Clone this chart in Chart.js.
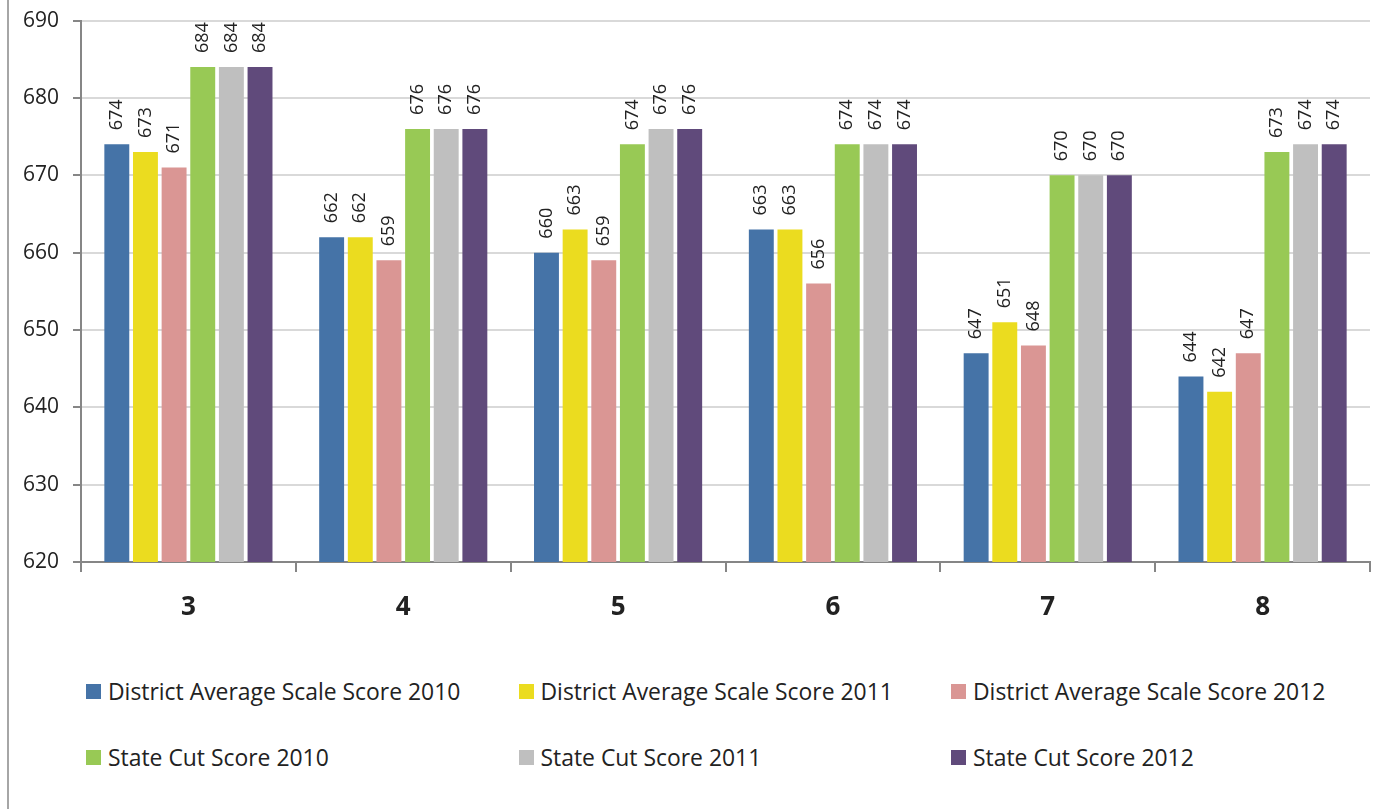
<!DOCTYPE html>
<html>
<head>
<meta charset="utf-8">
<script src="https://cdn.jsdelivr.net/npm/chart.js@4.4.0/dist/chart.umd.min.js"></script>
<style>
  html, body { margin: 0; padding: 0; background: #fff; }
  #wrap { position: relative; width: 1377px; height: 809px; overflow: hidden; }
  #frame { position: absolute; left: 7px; top: 0; width: 0; height: 809px; border-left: 2px solid #a6a6a6; }
  #chartBox { position: absolute; left: 0; top: -6px; width: 1377px; height: 646px; }
  #legend { position: absolute; left: 86px; top: 676px; width: 1290px;
    font-family: "Open Sans", sans-serif; font-size: 22.9px; color: #222; }
  .lg { position: absolute; display: flex; align-items: center; white-space: nowrap; }
  .lg i { display: inline-block; width: 15px; height: 15px; margin-right: 7px; }
</style>
</head>
<body>
<div id="wrap">
  <div id="frame"></div>
  <div id="chartBox"><canvas id="c"></canvas></div>
  <div id="legend"></div>
</div>
<script>
'use strict';

/* ---------- data ---------- */
const grades = ['3', '4', '5', '6', '7', '8'];
const seriesNames = [
  'District Average Scale Score 2010',
  'District Average Scale Score 2011',
  'District Average Scale Score 2012',
  'State Cut Score 2010',
  'State Cut Score 2011',
  'State Cut Score 2012'
];
const district2010 = [674, 662, 660, 663, 647, 644];
const district2011 = [673, 662, 663, 663, 651, 642];
const district2012 = [671, 659, 659, 656, 648, 647];
const state2010 = [684, 676, 674, 674, 670, 673];
const state2011 = [684, 676, 676, 674, 670, 674];
const state2012 = [684, 676, 676, 674, 670, 674];
const colors = ['#4573a7', '#ebdc1f', '#da9694', '#98c955', '#bfbfbf', '#604a7b'];

const seriesValues = [district2010, district2011, district2012, state2010, state2011, state2012];

/* ---------- rotated value labels ---------- */
const valueLabels = {
  id: 'valueLabels',
  afterDatasetsDraw(chart) {
    const ctx = chart.ctx;
    ctx.save();
    ctx.font = '18px "Open Sans", sans-serif';
    ctx.fillStyle = '#222';
    ctx.textAlign = 'left';
    ctx.textBaseline = 'middle';
    chart.data.datasets.forEach((ds, di) => {
      chart.getDatasetMeta(di).data.forEach((bar, i) => {
        ctx.save();
        ctx.translate(bar.x, bar.y - 14);
        ctx.rotate(-Math.PI / 2);
        ctx.fillText(String(ds.data[i]), 0, 0);
        ctx.restore();
      });
    });
    ctx.restore();
  }
};

/* ---------- chart ---------- */
new Chart(document.getElementById('c'), {
  type: 'bar',
  data: {
    labels: grades,
    datasets: seriesValues.map((vals, i) => ({
      label: seriesNames[i],
      data: vals,
      backgroundColor: colors[i],
      categoryPercentage: 0.8,
      barPercentage: 0.87
    }))
  },
  options: {
    responsive: true,
    maintainAspectRatio: false,
    animation: false,
    layout: { padding: { top: 4, right: 7, left: 0, bottom: 0 } },
    plugins: { legend: { display: false }, tooltip: { enabled: false } },
    scales: {
      x: {
        afterFit: s => { s.height = 78; },
        grid: { offset: true, drawOnChartArea: false, tickLength: 10, tickColor: '#868686', lineWidth: 2 },
        border: { color: '#868686', width: 2 },
        ticks: { color: '#222', padding: 20, font: { family: '"Open Sans", sans-serif', size: 26, weight: 'bold' } }
      },
      y: {
        min: 620,
        max: 690,
        afterFit: s => { s.width = 81; },
        ticks: { stepSize: 10, color: '#222', padding: 14, font: { family: '"Open Sans", sans-serif', size: 21 } },
        grid: { color: '#d9d9d9', lineWidth: 2, tickLength: 8, tickColor: '#868686' },
        border: { color: '#868686', width: 2 }
      }
    }
  },
  plugins: [valueLabels]
});

/* ---------- legend ---------- */
const legend = document.getElementById('legend');
seriesNames.forEach((name, i) => {
  const d = document.createElement('div');
  d.className = 'lg';
  d.style.left = (i % 3) * 432.5 + 'px';
  d.style.top = Math.floor(i / 3) * 66 + 'px';
  d.innerHTML = `<i style="background:${colors[i]}"></i><span>${name}</span>`;
  legend.appendChild(d);
});
</script>
</body>
</html>
